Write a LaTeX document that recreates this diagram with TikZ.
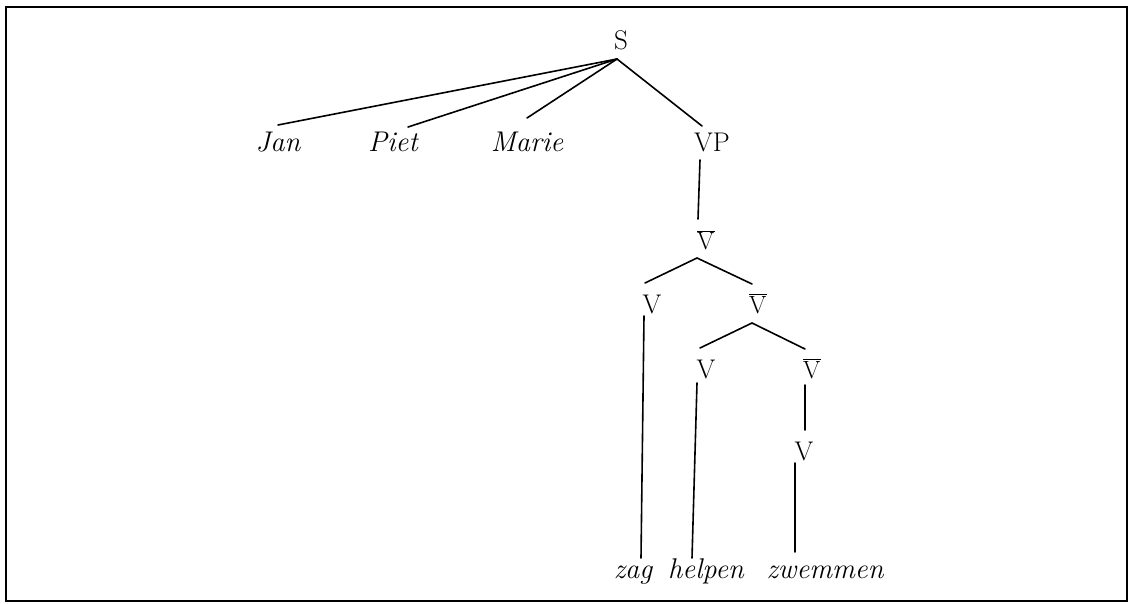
\documentclass[tikz,border=0pt]{standalone}
\usetikzlibrary{calc}
\begin{document}
\begin{tikzpicture}[x=1pt,y=-1pt,
  lbl/.style={anchor=base,inner sep=0pt,font=\fontsize{27}{31}\selectfont},
  wrd/.style={lbl,font=\fontsize{28.5}{32}\selectfont\itshape},
  edge/.style={line width=1.6pt,line cap=round}]
\useasboundingbox (0,0) rectangle (1130,604);
\draw[line width=2.2pt] (6,7) rectangle (1127,601);
% nodes
\node[lbl] (S) at (621,50) {S};
\node[wrd] (jan) at (278,152) {Jan};
\node[wrd] (piet) at (393,152) {Piet};
\node[wrd] (marie) at (527,152) {Marie};
\node[lbl] (vp) at (712,152) {VP};
\node[lbl] (vb1) at (706,250) {$\overline{\mathrm{V}}$};
\node[lbl] (v1) at (652,313) {V};
\node[lbl] (vb2) at (758,313) {$\overline{\mathrm{V}}$};
\node[lbl] (v2) at (706,378) {V};
\node[lbl] (vb3) at (812,378) {$\overline{\mathrm{V}}$};
\node[lbl] (v3) at (804,460) {V};
\node[wrd] (zag) at (633,578) {zag};
\node[wrd] (helpen) at (706,578) {helpen};
\node[wrd] (zwemmen) at (825,578) {zwemmen};
% connectors
\draw[edge] ($(S.base)+(-4,9)$) -- ($(jan.base)+(0,-27)$);
\draw[edge] ($(S.base)+(-4,9)$) -- ($(piet.base)+(15,-25)$);
\draw[edge] ($(S.base)+(-4,9)$) -- ($(marie.base)+(0,-34)$);
\draw[edge] ($(S.base)+(-4,9)$) -- ($(vp.base)+(-10,-26)$);
\draw[edge] ($(vp.base)+(-12,8)$) -- ($(vb1.base)+(-8,-31)$);
\draw[edge] ($(vb1.base)+(-9,8)$) -- ($(v1.base)+(-7,-30)$);
\draw[edge] ($(vb1.base)+(-9,8)$) -- ($(vb2.base)+(-6,-29)$);
\draw[edge] ($(v1.base)+(-8,3)$) -- ($(zag.base)+(8,-20)$);
\draw[edge] ($(vb2.base)+(-6,10)$) -- ($(v2.base)+(-6,-30)$);
\draw[edge] ($(vb2.base)+(-6,10)$) -- ($(vb3.base)+(-7,-29)$);
\draw[edge] ($(v2.base)+(-9,5)$) -- ($(helpen.base)+(-14,-20)$);
\draw[edge] ($(vb3.base)+(-7,7)$) -- ($(v3.base)+(1,-30)$);
\draw[edge] ($(v3.base)+(-9,3)$) -- ($(zwemmen.base)+(-30,-26)$);
\end{tikzpicture}
\end{document}
